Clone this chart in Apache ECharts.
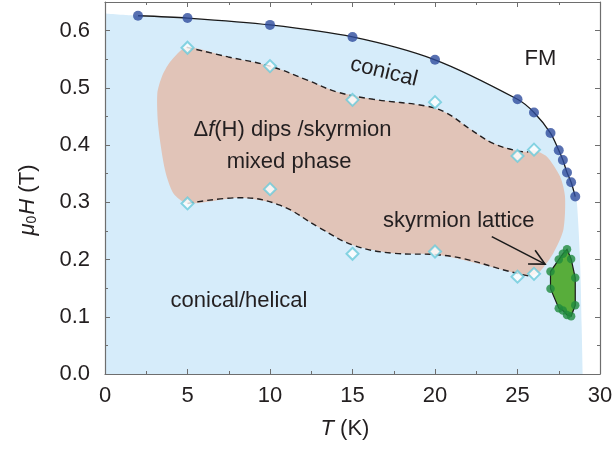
<!DOCTYPE html>
<html>
<head>
<meta charset="utf-8">
<script src="https://cdn.jsdelivr.net/npm/echarts@6/dist/echarts.min.js"></script>
<style>
  html, body { margin: 0; padding: 0; background: #ffffff; }
  #chart { width: 616px; height: 451px; }
</style>
</head>
<body>
<div id="chart"></div>
<script>
// Ferromagnetic boundary (filled circles): temperature in K, field in T
const fmT = [2, 5, 10, 15, 20, 25, 26, 27, 27.5, 27.75, 28, 28.25, 28.5];
const fmH = [0.626, 0.622, 0.610, 0.589, 0.549, 0.480, 0.457, 0.421, 0.391, 0.374, 0.352, 0.335, 0.310];

// Onset fields of the Δf(H) dips (open diamonds)
const dipT = [5, 10, 15, 20, 25, 26];
const dipUpperH = [0.570, 0.538, 0.479, 0.475, 0.381, 0.392];
const dipLowerH = [0.298, 0.323, 0.210, 0.214, 0.170, 0.175];

// Dashed guides bounding the mixed phase
const upperGuideT = [4.95, 7.47, 10.0, 12.22, 14.04, 16.26, 19.5, 20.7, 22.12, 23.53, 24.95, 25.65];
const upperGuideH = [0.571, 0.554, 0.538, 0.514, 0.493, 0.480, 0.468, 0.456, 0.428, 0.403, 0.390, 0.388];
const lowerGuideT = [5.0, 8.18, 10.6, 13.03, 15.05, 17.47, 20.3, 24.95, 25.75];
const lowerGuideH = [0.298, 0.308, 0.295, 0.255, 0.225, 0.211, 0.208, 0.176, 0.171];

// Remaining outline of the mixed-phase region
const mixedRightT = [26.0, 26.77, 27.58, 27.88, 27.78, 27.17, 26.36, 25.94];
const mixedRightH = [0.391, 0.380, 0.345, 0.310, 0.252, 0.211, 0.179, 0.173];
const mixedLeftT = [4.14, 3.64, 3.23, 3.17, 3.44, 3.94];
const mixedLeftH = [0.316, 0.356, 0.432, 0.490, 0.519, 0.545];

// Conical / helical region: flat top at low T, steep edge near Tc
const conicalLeftT = [0];
const conicalLeftH = [0.630];
const conicalEdgeT = [28.59, 28.79, 28.89, 28.95];
const conicalEdgeH = [0.304, 0.199, 0.083, 0.0];

// Skyrmion lattice pocket (green circles, in outline order)
const latticeT = [28.0, 28.25, 28.5, 28.5, 28.25, 28.0, 27.75, 27.5, 27.0, 27.0, 27.5, 27.75];
const latticeH = [0.218, 0.201, 0.168, 0.120, 0.101, 0.103, 0.111, 0.115, 0.149, 0.179, 0.200, 0.210];

// Pointer from the "skyrmion lattice" label to the pocket
const arrowT = [23.44, 26.67];
const arrowH = [0.240, 0.192];

// Axis ticks
const xTicks = [0, 5, 10, 15, 20, 25, 30];
const yTicks = [0.0, 0.1, 0.2, 0.3, 0.4, 0.5, 0.6];

const zip = (a, b) => a.map((v, i) => [v, b[i]]);

const FONT = "'Liberation Sans', Arial, Helvetica, sans-serif";
const INK = '#231f20';
const FRAME = '#6e6e6e';

const conicalPts = zip(conicalLeftT, conicalLeftH)
  .concat(zip(fmT, fmH))
  .concat(zip(conicalEdgeT, conicalEdgeH));

const mixedPts = zip(upperGuideT, upperGuideH)
  .concat(zip(mixedRightT, mixedRightH))
  .concat(zip(lowerGuideT, lowerGuideH).reverse())
  .concat(zip(mixedLeftT, mixedLeftH));

const latticePts = zip(latticeT, latticeH);

function regionSeries(pts, style, z, smooth) {
  return {
    type: 'custom',
    z: z,
    silent: true,
    clip: true,
    data: pts,
    encode: { x: 0, y: 1 },
    renderItem: function (params, api) {
      if (params.dataIndex !== 0) return null;
      return {
        type: 'polygon',
        shape: { points: pts.map(p => api.coord(p)), smooth: smooth },
        style: style
      };
    }
  };
}

function axisCommon(extra) {
  return Object.assign({
    type: 'value',
    z: 10,
    splitLine: { show: false },
    axisLine: { show: true, onZero: false, lineStyle: { color: FRAME, width: 1.2 } },
    axisTick: { show: true, inside: true, length: 5, lineStyle: { color: FRAME, width: 1 } },
    minorTick: { show: true, splitNumber: 2, length: 3, lineStyle: { color: FRAME, width: 1 } }
  }, extra);
}

const xMin = xTicks[0], xMax = xTicks[xTicks.length - 1];
const xStep = xTicks[1] - xTicks[0];
const yStep = +(yTicks[1] - yTicks[0]).toFixed(2);

const chart = echarts.init(document.getElementById('chart'), null, { renderer: 'canvas' });

chart.setOption({
  animation: false,
  backgroundColor: '#ffffff',
  grid: { left: 105, right: 16, top: 2, bottom: 77, containLabel: false },
  xAxis: [
    axisCommon({
      position: 'bottom', min: xMin, max: xMax, interval: xStep,
      axisLabel: { fontSize: 22, color: INK, fontFamily: FONT, margin: 11 },
      name: '{i|T} (K)',
      nameLocation: 'middle',
      nameGap: 44,
      nameTextStyle: {
        fontSize: 22, color: INK, fontFamily: FONT, padding: [0, 15, 0, 0],
        rich: { i: { fontStyle: 'italic', fontSize: 22, color: INK, fontFamily: FONT } }
      }
    }),
    axisCommon({
      position: 'top', min: xMin, max: xMax, interval: xStep,
      axisLabel: { show: false }
    })
  ],
  yAxis: [
    axisCommon({
      position: 'left', min: 0, max: 0.65, interval: yStep,
      axisLabel: {
        fontSize: 22, color: INK, fontFamily: FONT, margin: 15, showMaxLabel: false,
        formatter: v => (yTicks.some(t => Math.abs(t - v) < 1e-6) ? v.toFixed(1) : '')
      },
      name: '{i|μ}{s|0}{i|H} (T)',
      nameLocation: 'middle',
      nameGap: 66,
      nameTextStyle: {
        fontSize: 22, color: INK, fontFamily: FONT, padding: [0, 24, 0, 0],
        rich: {
          i: { fontStyle: 'italic', fontSize: 22, color: INK, fontFamily: FONT },
          s: { fontSize: 14, color: INK, fontFamily: FONT, verticalAlign: 'bottom', padding: [0, 1, 0, 0] }
        }
      }
    }),
    axisCommon({
      position: 'right', min: 0, max: 0.65, interval: yStep,
      axisLabel: { show: false }
    })
  ],
  series: [
    // conical/helical background
    {
      type: 'line', z: 1, silent: true,
      data: conicalPts,
      smooth: 0.3,
      showSymbol: false,
      lineStyle: { width: 0, opacity: 0 },
      areaStyle: { color: '#d6ecfa', opacity: 1 }
    },
    // Δf(H) dips / skyrmion mixed phase
    regionSeries(mixedPts, { fill: '#e1c4b8' }, 2, 0.25),
    // dashed guides
    {
      type: 'line', z: 3, silent: true, data: zip(upperGuideT, upperGuideH),
      smooth: 0.4, showSymbol: false,
      lineStyle: { color: INK, width: 1.4, type: [6, 4] }
    },
    {
      type: 'line', z: 3, silent: true, data: zip(lowerGuideT, lowerGuideH),
      smooth: 0.4, showSymbol: false,
      lineStyle: { color: INK, width: 1.4, type: [6, 4] }
    },
    // FM boundary line
    {
      type: 'line', z: 3, silent: true, data: zip(fmT, fmH),
      smooth: 0.3, showSymbol: false,
      lineStyle: { color: '#1a1a1a', width: 1.3 }
    },
    // skyrmion lattice pocket
    regionSeries(latticePts, { fill: '#58ad3b', stroke: '#1a1a1a', lineWidth: 1.2 }, 4, 0),
    // pointer arrow
    {
      type: 'custom', z: 5, silent: true,
      data: [[arrowT[0], arrowH[0], arrowT[1], arrowH[1]]],
      encode: { x: [0, 2], y: [1, 3] },
      renderItem: function (params, api) {
        const a = api.coord([api.value(0), api.value(1)]);
        const b = api.coord([api.value(2), api.value(3)]);
        const ang = Math.atan2(b[1] - a[1], b[0] - a[0]);
        const len = 17, spread = 0.47;
        const h1 = [b[0] - len * Math.cos(ang - spread), b[1] - len * Math.sin(ang - spread)];
        const h2 = [b[0] - len * Math.cos(ang + spread), b[1] - len * Math.sin(ang + spread)];
        const st = { stroke: '#1a1a1a', lineWidth: 1.6, fill: null };
        return {
          type: 'group',
          children: [
            { type: 'line', shape: { x1: a[0], y1: a[1], x2: b[0], y2: b[1] }, style: st },
            { type: 'polyline', shape: { points: [h1, b, h2] }, style: st }
          ]
        };
      }
    },
    // markers
    {
      type: 'scatter', z: 6, data: zip(fmT, fmH),
      symbol: 'circle', symbolSize: 10,
      itemStyle: { color: '#2e4c9e' }
    },
    {
      type: 'scatter', z: 6, data: zip(dipT, dipUpperH).concat(zip(dipT, dipLowerH)),
      symbol: 'diamond', symbolSize: 12,
      itemStyle: { color: '#ffffff', borderColor: '#6ccadb', borderWidth: 2 }
    },
    {
      type: 'scatter', z: 6, data: latticePts,
      symbol: 'circle', symbolSize: 8.5,
      itemStyle: { color: '#1f8b3d' }
    }
  ],
  graphic: [
    {
      type: 'text', z: 100, x: 540.5, y: 59,
      style: { text: 'FM', fill: INK, font: '22px ' + FONT, align: 'center', verticalAlign: 'middle' }
    },
    {
      type: 'text', z: 100, x: 384, y: 72, rotation: -0.24,
      style: { text: 'conical', fill: INK, font: '22px ' + FONT, align: 'center', verticalAlign: 'middle' }
    },
    {
      type: 'text', z: 100, x: 292.5, y: 129.7,
      style: {
        text: 'Δ{i|f}(H) dips /skyrmion', fill: INK, font: '22px ' + FONT,
        align: 'center', verticalAlign: 'middle',
        rich: { i: { fontStyle: 'italic', fontSize: 22, fontFamily: FONT, fill: INK } }
      }
    },
    {
      type: 'text', z: 100, x: 289, y: 161.7,
      style: { text: 'mixed phase', fill: INK, font: '22px ' + FONT, align: 'center', verticalAlign: 'middle' }
    },
    {
      type: 'text', z: 100, x: 458.8, y: 220.7,
      style: { text: 'skyrmion lattice', fill: INK, font: '22px ' + FONT, align: 'center', verticalAlign: 'middle' }
    },
    {
      type: 'text', z: 100, x: 239, y: 300.7,
      style: { text: 'conical/helical', fill: INK, font: '22px ' + FONT, align: 'center', verticalAlign: 'middle' }
    }
  ]
});
</script>
</body>
</html>
